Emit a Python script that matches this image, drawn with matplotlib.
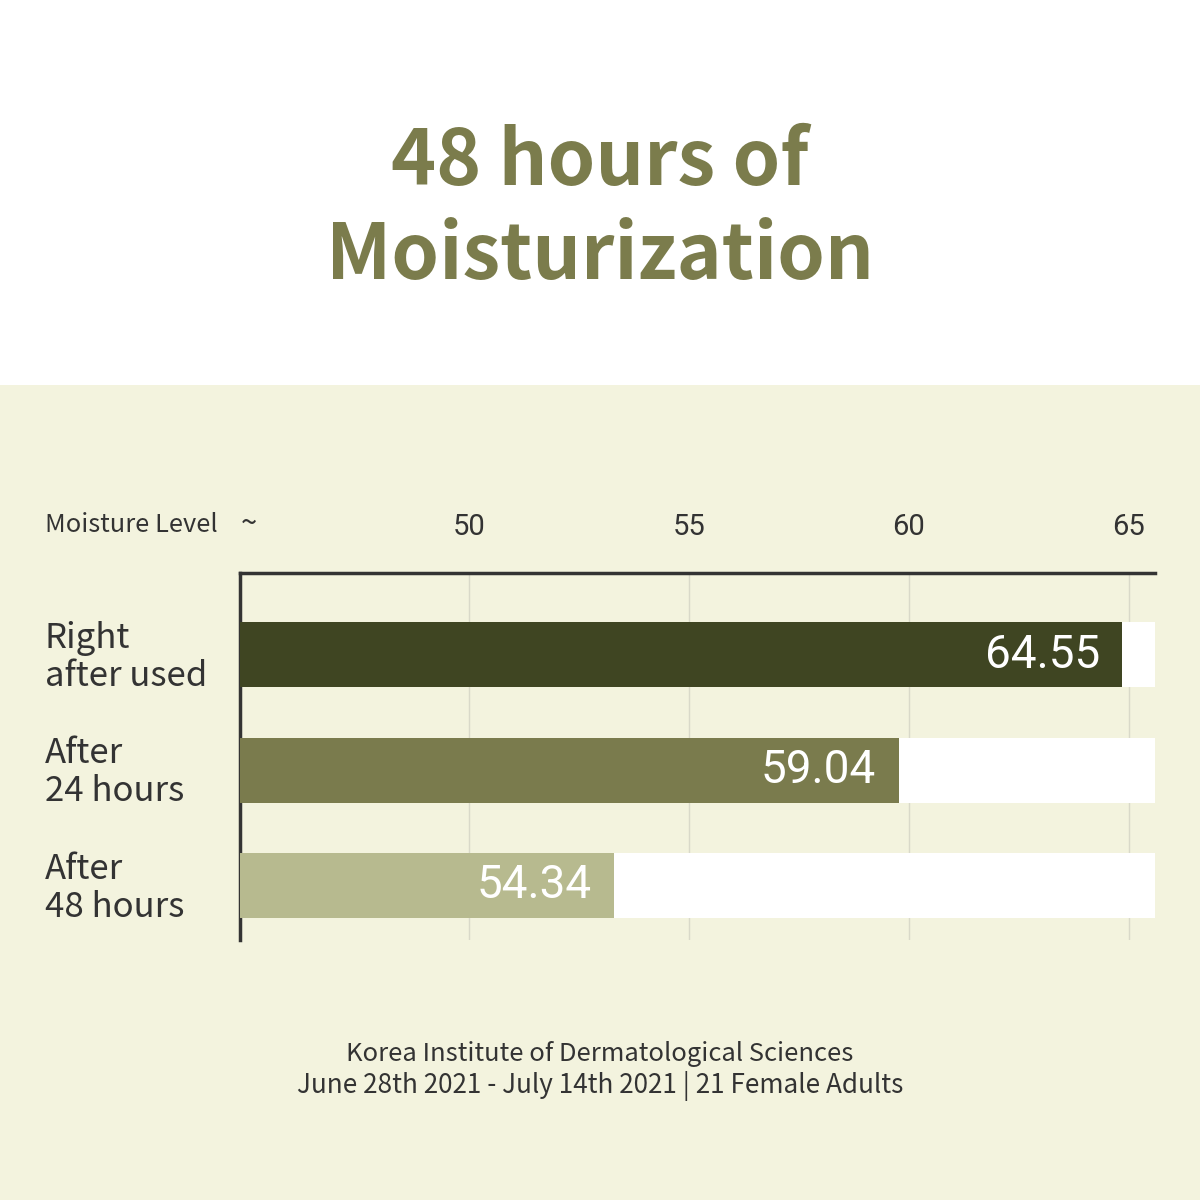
import matplotlib
matplotlib.use("Agg")
import matplotlib.pyplot as plt
from matplotlib.patches import Rectangle

# values
categories = ["Right\nafter used", "After\n24 hours", "After\n48 hours"]
value_labels = ["64.55", "59.04", "54.34"]
bar_lengths = [64.86, 59.77, 53.30]   # where the bars end on the drawn axis
tick_values = [50, 55, 60, 65]
x_min, x_max = 44.8, 65.6

bar_colors = ["#3f4522", "#7a7b4d", "#b7ba8f"]
olive = "#7b7c4c"
beige = "#f3f3de"
text_dark = "#333333"

plt.rcParams['font.family'] = ['Noto Sans CJK KR', 'DejaVu Sans']

fig = plt.figure(figsize=(12, 12), dpi=100)
fig.patch.set_facecolor("white")

# beige lower panel
panel = Rectangle((0, 0), 1, 1 - 385 / 1200, transform=fig.transFigure,
                  facecolor=beige, edgecolor="none", zorder=-10)
fig.add_artist(panel)

fig.text(0.5, 1 - 162 / 1200, "48 hours of", ha="center", va="center",
         fontsize=55, fontweight="bold", color=olive)
fig.text(0.5, 1 - 256 / 1200, "Moisturization", ha="center", va="center",
         fontsize=55, fontweight="bold", color=olive)

ax = fig.add_axes([240 / 1200, 1 - 940 / 1200, 915 / 1200, 367 / 1200])
ax.set_facecolor("none")
ax.set_xlim(x_min, x_max)
ax.set_ylim(2.472, -0.706)

ypos = list(range(len(categories)))
# white track behind each bar
ax.barh(ypos, [x_max - x_min] * len(ypos), left=x_min, height=0.563,
        color="white", zorder=2)
ax.barh(ypos, [b - x_min for b in bar_lengths], left=x_min, height=0.563,
        color=bar_colors, zorder=3)

for y, end, lab in zip(ypos, bar_lengths, value_labels):
    ax.annotate(lab, (end, y), xytext=(-16, 0), textcoords="offset points",
                ha="right", va="center", color="white", fontsize=33,
                family=["Roboto", "DejaVu Sans"], zorder=4)

for t in tick_values:
    ax.axvline(t, color="#d9d9c9", linewidth=1, zorder=1)

ax.set_xticks(tick_values)
ax.set_xticklabels([str(t) for t in tick_values], fontsize=21, color=text_dark,
                   family=["Roboto", "DejaVu Sans"])
ax.xaxis.tick_top()
ax.tick_params(axis="x", length=0, pad=23)
ax.set_yticks([])

for s in ["right", "bottom"]:
    ax.spines[s].set_visible(False)
ax.spines["left"].set_linewidth(2.5)
ax.spines["top"].set_linewidth(2.5)
ax.spines["left"].set_color("#333333")
ax.spines["top"].set_color("#333333")

fig.text(45 / 1200, 1 - 525 / 1200, "Moisture Level", ha="left", va="center",
         fontsize=18.3, color=text_dark)
fig.text(249 / 1200, 1 - 524 / 1200, "~", ha="center", va="center",
         fontsize=21, color=text_dark)

for y, cat in zip(ypos, categories):
    ax.annotate(cat, (0, y), xycoords=("figure fraction", "data"),
                xytext=(45 * 0.72, -2), textcoords="offset points",
                ha="left", va="center", fontsize=25, color=text_dark,
                linespacing=1.1, annotation_clip=False)

fig.text(0.5, 1 - 1054 / 1200, "Korea Institute of Dermatological Sciences",
         ha="center", va="center", fontsize=18.4, color=text_dark)
fig.text(0.5, 1 - 1086 / 1200, "June 28th 2021 - July 14th 2021 | 21 Female Adults",
         ha="center", va="center", fontsize=18.8, color=text_dark)

fig.savefig("out.png", dpi=100, facecolor=fig.get_facecolor())
